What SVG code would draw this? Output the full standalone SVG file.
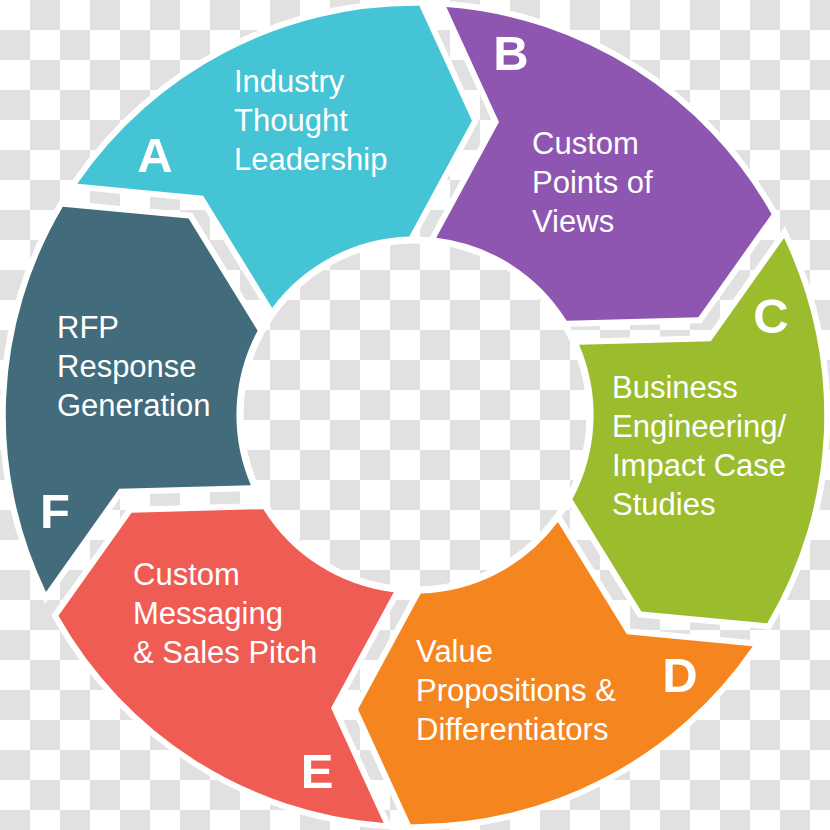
<svg xmlns="http://www.w3.org/2000/svg" width="830" height="830" viewBox="0 0 830 830">
<defs>
<pattern id="checker" width="60" height="60" patternUnits="userSpaceOnUse">
<rect width="60" height="60" fill="#ffffff"/>
<rect x="30" y="0" width="30" height="30" fill="#e1e1e1"/>
<rect x="0" y="30" width="30" height="30" fill="#e1e1e1"/>
</pattern>
</defs>
<style>
.seg{stroke:#ffffff;stroke-width:12;paint-order:stroke;stroke-linejoin:miter;stroke-miterlimit:4}
.lbl{font-family:"Liberation Sans",Arial,sans-serif;font-size:31px;fill:#ffffff}
.let{font-family:"Liberation Sans",Arial,sans-serif;font-size:49px;font-weight:bold;fill:#ffffff;text-anchor:middle}
</style>
<rect width="830" height="830" fill="url(#checker)"/>
<circle cx="415" cy="415" r="175" fill="none" stroke="#ffffff" stroke-width="7"/>
<g id="connectors"></g>
<g id="nodeA">
<path class="seg" fill="#44C4D4" d="M77.30,183.85 A409,409 0 0 1 419.35,5.80 L471.99,120.70 L409.27,236.58 A178,178 0 0 0 272.13,307.97 L203.13,195.72 Z"/>
<text class="let" x="155" y="172">A</text>
<text class="lbl" x="234" y="92">Industry</text>
<text class="lbl" x="234" y="131">Thought</text>
<text class="lbl" x="234" y="170">Leadership</text>
</g>
<g id="nodeB">
<path class="seg" fill="#8E55B1" d="M446.33,6.98 A409,409 0 0 1 771.56,214.17 L698.36,317.21 L566.66,320.84 A178,178 0 0 0 436.25,237.76 L498.96,121.88 Z"/>
<text class="let" x="511" y="70">B</text>
<text class="lbl" x="532" y="154">Custom</text>
<text class="lbl" x="532" y="193">Points of</text>
<text class="lbl" x="532" y="232">Views</text>
</g>
<g id="nodeC">
<path class="seg" fill="#9BBD2D" d="M784.02,238.11 A409,409 0 0 1 767.20,623.37 L641.38,611.50 L572.37,499.25 A178,178 0 0 0 579.12,344.78 L710.83,341.16 Z"/>
<text class="let" x="771" y="333">C</text>
<text class="lbl" x="612" y="398">Business</text>
<text class="lbl" x="612" y="437">Engineering/</text>
<text class="lbl" x="612" y="476">Impact Case</text>
<text class="lbl" x="612" y="515">Studies</text>
</g>
<g id="nodeD">
<path class="seg" fill="#F5861F" d="M752.70,646.15 A409,409 0 0 1 410.65,824.20 L358.01,709.30 L420.73,593.42 A178,178 0 0 0 557.87,522.03 L626.87,634.28 Z"/>
<text class="let" x="680" y="692">D</text>
<text class="lbl" x="416" y="662">Value</text>
<text class="lbl" x="416" y="701">Propositions &amp;</text>
<text class="lbl" x="416" y="740">Differentiators</text>
</g>
<g id="nodeE">
<path class="seg" fill="#EF5C53" d="M383.67,823.02 A409,409 0 0 1 58.44,615.83 L131.64,512.79 L263.34,509.16 A178,178 0 0 0 393.75,592.24 L331.04,708.12 Z"/>
<text class="let" x="317" y="788">E</text>
<text class="lbl" x="133" y="585">Custom</text>
<text class="lbl" x="133" y="624">Messaging</text>
<text class="lbl" x="133" y="663">&amp; Sales Pitch</text>
</g>
<g id="nodeF">
<path class="seg" fill="#426B7B" d="M45.98,591.89 A409,409 0 0 1 62.80,206.63 L188.62,218.50 L257.63,330.75 A178,178 0 0 0 250.88,485.22 L119.17,488.84 Z"/>
<text class="let" x="55" y="528">F</text>
<text class="lbl" x="57" y="338">RFP</text>
<text class="lbl" x="57" y="377">Response</text>
<text class="lbl" x="57" y="416">Generation</text>
</g>
</svg>
